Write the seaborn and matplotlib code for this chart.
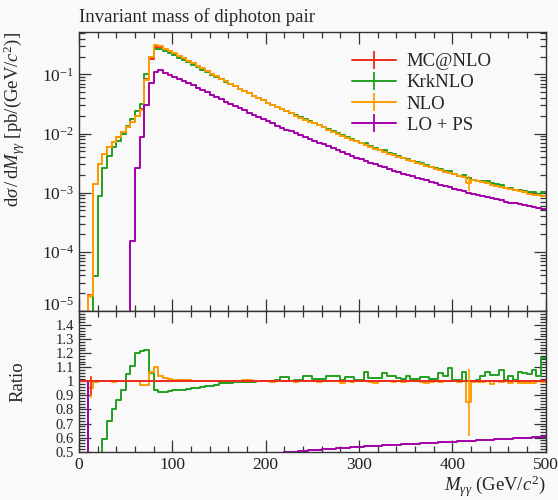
import numpy as np
import pandas as pd
import matplotlib
matplotlib.use('Agg')
import matplotlib.pyplot as plt
import matplotlib.transforms as mtransforms
import seaborn as sns
from matplotlib.lines import Line2D
from matplotlib.ticker import MultipleLocator, FixedLocator, FixedFormatter, LogLocator, NullFormatter

# 5 GeV bins from 0 to 500 GeV
bin_edges = np.arange(0, 505, 5)

generators = ['MC@NLO', 'KrkNLO', 'NLO', 'LO + PS']
colors = {'MC@NLO': '#ee2b1c', 'KrkNLO': '#22a022', 'NLO': '#ff9c00', 'LO + PS': '#a300a8'}

# MC@NLO reference cross section per bin [pb/(GeV/c^2)]
mcnlo_xs = [
    0, 0, 1.9e-5, 1.4e-3, 3.1e-3, 4.5e-3, 5.9e-3, 7.3e-3, 8.8e-3, 1.05e-2,
    1.28e-2, 1.58e-2, 2.0e-2, 2.6e-2, 8.3e-2, 0.185, 0.285, 0.292, 0.267, 0.245,
    0.224, 0.204, 0.186, 0.170, 0.154, 0.139, 0.125, 0.113, 0.102, 0.0925,
    0.0839, 0.0760, 0.0692, 0.0631, 0.0575, 0.0525, 0.0479, 0.0437, 0.0398, 0.0363,
    0.0332, 0.0305, 0.0279, 0.0256, 0.0236, 0.0218, 0.0201, 0.0185, 0.0171, 0.0159,
    0.0148, 0.0137, 0.01266, 0.01168, 0.01078, 0.00994, 0.00920, 0.00853, 0.00792, 0.00735,
    0.00684, 0.00638, 0.00596, 0.00556, 0.00520, 0.00489, 0.00458, 0.00431, 0.00405, 0.00382,
    0.00361, 0.00341, 0.00322, 0.00304, 0.00287, 0.00271, 0.00256, 0.00241, 0.00228, 0.00215,
    0.00204, 0.00193, 0.00184, 0.00174, 0.00166, 0.00158, 0.00151, 0.00145, 0.00138, 0.00132,
    0.00126, 0.00120, 0.00115, 0.00111, 0.00106, 0.00102, 0.00098, 0.000942, 0.000904, 0.000869,
]

# ratios to MC@NLO
krknlo_ratio = [
    1, 1, 0, 0.028, 0.28, 0.59, 0.72, 0.805, 0.865, 0.936,
    1.05, 1.11, 1.198, 1.215, 1.22, 1.06, 0.94, 0.921, 0.925, 0.93,
    0.935, 0.938, 0.942, 0.947, 0.952, 0.956, 0.96, 0.965, 0.969, 0.972,
    0.985, 0.988, 0.99, 0.992, 0.994, 0.995, 0.997, 0.998, 1.0, 1.003,
    1.005, 1.004, 1.008, 1.03, 1.03, 1.006, 1.01, 1.012, 1.035, 1.04,
    1.017, 1.017, 1.02, 1.036, 1.036, 1.036, 1.012, 1.03, 1.03, 1.012,
    1.012, 1.064, 1.024, 1.024, 1.024, 1.06, 1.036, 1.036, 1.024, 1.02,
    1.036, 1.017, 1.017, 1.03, 1.03, 1.017, 1.017, 1.06, 1.036, 1.095,
    1.007, 1.007, 1.07, 1.005, 1.005, 1.01, 1.036, 1.07, 1.045, 1.045,
    1.08, 1.01, 1.036, 1.012, 1.064, 1.06, 1.05, 1.08, 1.036, 1.167,
]

nlo_ratio = [
    1, 1, 0.953, 0.998, 1.0, 0.999, 1.001, 0.998, 1.0, 0.999,
    1.0, 1.001, 0.999, 0.976, 0.976, 1.07, 1.10, 1.04, 1.024, 1.017,
    1.012, 1.01, 1.008, 1.007, 1.006, 1.006, 1.005, 1.005, 1.004, 1.004,
    1.003, 1.003, 1.003, 1.002, 1.002, 1.007, 1.007, 1.002, 1.0, 1.0,
    1.0, 0.998, 1.0, 1.002, 0.999, 1.0, 0.998, 1.0, 1.001, 0.999,
    1.0, 0.998, 1.0, 0.999, 1.0, 1.0, 0.99, 1.0, 0.998, 1.0,
    0.999, 1.0, 0.998, 0.99, 1.0, 0.999, 1.0, 0.998, 1.0, 0.997,
    1.0, 0.999, 1.0, 0.998, 0.99, 0.992, 1.0, 0.998, 1.0, 0.999,
    1.0, 0.998, 1.0, 0.85, 0.993, 0.993, 0.993, 1.0, 0.978, 1.0,
    0.998, 1.0, 0.99, 1.0, 0.988, 0.988, 0.988, 0.988, 1.0, 0.995,
]

lops_ratio = [
    1, 1, 0, 0, 0, 0, 0, 0, 0, 0,
    0, 0.0095, 0.13, 0.34, 0.37, 0.39, 0.39, 0.40, 0.401, 0.405,
    0.409, 0.413, 0.417, 0.421, 0.425, 0.429, 0.433, 0.437, 0.441, 0.445,
    0.449, 0.453, 0.457, 0.461, 0.465, 0.468, 0.471, 0.474, 0.477, 0.48,
    0.483, 0.486, 0.489, 0.492, 0.495, 0.498, 0.501, 0.503, 0.506, 0.509,
    0.512, 0.514, 0.517, 0.519, 0.521, 0.523, 0.526, 0.528, 0.531, 0.533,
    0.536, 0.538, 0.54, 0.543, 0.543, 0.545, 0.547, 0.548, 0.551, 0.552,
    0.554, 0.556, 0.557, 0.56, 0.561, 0.563, 0.564, 0.567, 0.568, 0.57,
    0.572, 0.573, 0.576, 0.577, 0.578, 0.581, 0.582, 0.583, 0.586, 0.587,
    0.589, 0.591, 0.593, 0.594, 0.597, 0.598, 0.600, 0.603, 0.604, 0.607,
]

# the few visible error bars (bin index, relative error w.r.t. MC@NLO)
nlo_err_bins = [2, 83]
nlo_err_rel = [0.07, 0.24]
mcnlo_err_bins = [2]
mcnlo_err_lo = [0.095]
mcnlo_err_hi = [0.036]
krknlo_err_bins = [99]
krknlo_err_rel = [0.06]

ratio_ticks = [0.5, 0.6, 0.7, 0.8, 0.9, 1.0, 1.1, 1.2, 1.3, 1.4]
ratio_labels = ['0.5', '0.6', '0.7', '0.8', '0.9', '1', '1.1', '1.2', '1.3', '1.4']

BG = '#f9f9f9'
INK = '#333333'
FS = 13.5


def build_series():
    ref = np.array(mcnlo_xs)
    return {
        'MC@NLO': ref,
        'KrkNLO': ref * np.array(krknlo_ratio),
        'NLO': ref * np.array(nlo_ratio),
        'LO + PS': ref * np.array(lops_ratio),
    }


# long-form frame for step drawing (last value repeated for steps-post)
def step_frame(series):
    rows = []
    for name, vals in series.items():
        vals = list(vals) + [vals[-1]]
        for e, v in zip(bin_edges, vals):
            rows.append({'edge': e, 'value': v, 'generator': name})
    return pd.DataFrame(rows)


def style_axis(ax):
    ax.set_facecolor(BG)
    for s in ax.spines.values():
        s.set_color(INK)
        s.set_linewidth(1.0)
    ax.tick_params(which='both', direction='in', top=True, right=True, color=INK,
                   labelcolor='#222222', labelsize=12.5, width=0.9)
    ax.tick_params(which='major', length=8.5)
    ax.tick_params(which='minor', length=4.5)


sns.set_theme(style='ticks')
plt.rcParams['font.family'] = ['Liberation Serif', 'DejaVu Serif']
plt.rcParams['mathtext.fontset'] = 'custom'
plt.rcParams['mathtext.rm'] = 'Liberation Serif'
plt.rcParams['mathtext.it'] = 'Liberation Serif:italic'
plt.rcParams['mathtext.bf'] = 'Liberation Serif:bold'

series = build_series()
ref = series['MC@NLO']
centers = bin_edges[:-1] + 2.5

fig = plt.figure(figsize=(5.58, 5.0), dpi=100, facecolor=BG)
ax_main = fig.add_axes([0.1416, 0.378, 0.836, 0.558])
ax_ratio = fig.add_axes([0.1416, 0.0966, 0.836, 0.2814], sharex=ax_main)

# main panel
main_df = step_frame(series)
sns.lineplot(data=main_df, x='edge', y='value', hue='generator', hue_order=generators,
             palette=colors, drawstyle='steps-post', estimator=None, sort=False,
             legend=False, linewidth=1.4, ax=ax_main)
nlo_err_abs = ref[nlo_err_bins] * np.array(nlo_err_rel)
ax_main.vlines(centers[nlo_err_bins], series['NLO'][nlo_err_bins] - nlo_err_abs,
               series['NLO'][nlo_err_bins] + nlo_err_abs, color=colors['NLO'], linewidth=1.2)
krk_err_abs = ref[krknlo_err_bins] * np.array(krknlo_err_rel)
ax_main.vlines(centers[krknlo_err_bins], series['KrkNLO'][krknlo_err_bins] - krk_err_abs,
               series['KrkNLO'][krknlo_err_bins] + krk_err_abs, color=colors['KrkNLO'],
               linewidth=1.2)
ax_main.set_yscale('log')
ax_main.set_ylim(1e-5, 0.52)
ax_main.set_xlim(0, 500)
ax_main.yaxis.set_major_locator(LogLocator(base=10, numticks=10))
ax_main.yaxis.set_minor_locator(LogLocator(base=10, subs=np.arange(2, 10), numticks=10))
ax_main.yaxis.set_minor_formatter(NullFormatter())
ax_main.set_xlabel('')
ax_main.set_ylabel(r'$\mathrm{d}\sigma\,/\,\mathrm{d}M_{\gamma\gamma}$ [pb/(GeV/$c^2$)]',
                   fontsize=FS, loc='top')
ax_main.set_title('Invariant mass of diphoton pair', loc='left', fontsize=FS, pad=7)
style_axis(ax_main)
ax_main.tick_params(axis='x', labelbottom=False)
ax_main.xaxis.set_major_locator(MultipleLocator(100))
ax_main.xaxis.set_minor_locator(MultipleLocator(20))

handles = [Line2D([], [], color=colors[g], linewidth=1.4, marker='|', markersize=13,
                  markeredgewidth=1.3) for g in generators]
ax_main.legend(handles, generators, loc='upper left', bbox_to_anchor=(0.55, 0.985),
               frameon=False, fontsize=FS, handlelength=2.3, labelspacing=0.22,
               handletextpad=0.6)

# ratio panel (ratio to MC@NLO)
ratios = {}
for g in ['KrkNLO', 'NLO', 'LO + PS', 'MC@NLO']:
    ratios[g] = np.where(ref > 0, series[g] / np.where(ref > 0, ref, 1), 1.0)
ratio_df = step_frame(ratios)
sns.lineplot(data=ratio_df, x='edge', y='value', hue='generator',
             hue_order=['KrkNLO', 'NLO', 'LO + PS', 'MC@NLO'], palette=colors,
             drawstyle='steps-post', estimator=None, sort=False, legend=False,
             linewidth=1.4, ax=ax_ratio)
ax_ratio.vlines(centers[nlo_err_bins], ratios['NLO'][nlo_err_bins] - np.array(nlo_err_rel),
                ratios['NLO'][nlo_err_bins] + np.array(nlo_err_rel),
                color=colors['NLO'], linewidth=1.2)
ax_ratio.vlines(centers[mcnlo_err_bins], 1 - np.array(mcnlo_err_lo),
                1 + np.array(mcnlo_err_hi), color=colors['MC@NLO'], linewidth=1.2, zorder=5)
ax_ratio.set_ylim(0.5, 1.5)
ax_ratio.set_xlim(0, 500)
ax_ratio.yaxis.set_major_locator(FixedLocator(ratio_ticks))
ax_ratio.yaxis.set_major_formatter(FixedFormatter(ratio_labels))
ax_ratio.yaxis.set_minor_locator(MultipleLocator(0.02))
ax_ratio.xaxis.set_major_locator(MultipleLocator(100))
ax_ratio.xaxis.set_minor_locator(MultipleLocator(20))
style_axis(ax_ratio)
ax_ratio.tick_params(axis='y', labelsize=10.5)
ax_ratio.set_ylabel('Ratio', fontsize=FS)
ax_ratio.set_xlabel(r'$M_{\gamma\gamma}$ (GeV/$c^2$)', fontsize=FS, loc='right', labelpad=1)
ax_main.yaxis.set_label_coords(-0.112, 1.0)
ax_ratio.yaxis.set_label_coords(-0.112, 0.5)

# lift the lowest decade label a little so it sits above the ratio panel
fig.canvas.draw()
for lbl in ax_main.get_yticklabels():
    if lbl.get_position()[1] <= 1.01e-5 and lbl.get_position()[1] >= 0.99e-5:
        lbl.set_transform(lbl.get_transform() + mtransforms.ScaledTranslation(0, 5 / 72, fig.dpi_scale_trans))

fig.savefig('out.png', dpi=100, facecolor=BG)
